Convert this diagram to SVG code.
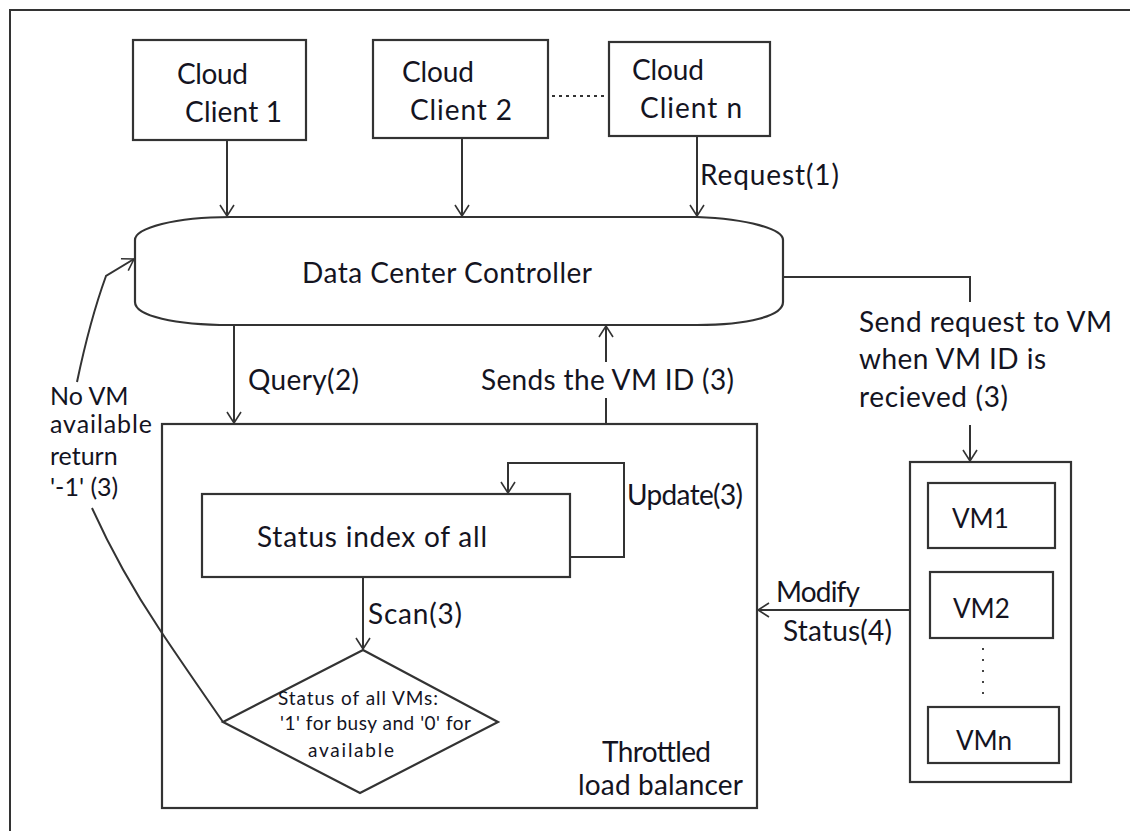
<svg xmlns="http://www.w3.org/2000/svg" width="1130" height="831" viewBox="0 0 1130 831">
<style>
.ln{fill:none;stroke:#333;stroke-width:2}
.bx{fill:#fff;stroke:#333;stroke-width:2.2}
text{font-family:Lato,"Open Sans","Liberation Sans",sans-serif;fill:#14141f}
.t28{font-size:28px}
.t26{font-size:26px}
.t25{font-size:25px}
.t19{font-size:19px}
</style>
<defs>
<marker id="ah" viewBox="-12 -8 14 16" markerWidth="14" markerHeight="16" refX="0" refY="0" orient="auto" markerUnits="userSpaceOnUse">
<path d="M-11,-7 L0,0 L-11,7" fill="none" stroke="#333" stroke-width="1.6"/>
</marker>
</defs>
<rect width="1130" height="831" fill="#fff"/>
<path class="ln" d="M10,831 L10,10 L1130,10" stroke-width="2.5"/>

<g id="client1"><rect class="bx" x="133" y="40" width="173" height="100"/>
<text class="t28" x="177" y="84" textLength="71">Cloud</text><text class="t28" x="185" y="122" textLength="97">Client 1</text></g>
<g id="client2"><rect class="bx" x="373" y="40" width="175" height="98"/>
<text class="t28" x="402" y="82" textLength="72">Cloud</text><text class="t28" x="410" y="120" textLength="102">Client 2</text></g>
<g id="clientn"><rect class="bx" x="609" y="42" width="161" height="94"/>
<text class="t28" x="632" y="80" textLength="72">Cloud</text><text class="t28" x="640" y="118" textLength="102">Client n</text></g>

<g id="controller"><path class="bx" d="M230,217 L697,217 C748,219 783,229 783,240 L783,302 C783,316 748,325 697,325 L230,325 C175,325 135,316 135,302 L135,240 C135,228 175,217 230,217 Z"/>
<text class="t28" x="302" y="283" textLength="290">Data Center Controller</text></g>

<g id="loadbalancer"><rect class="bx" x="162" y="424" width="595" height="384"/>
<text class="t28" x="602" y="762" textLength="109">Throttled</text><text class="t28" x="578" y="795" textLength="165">load balancer</text></g>

<g id="statusindex"><rect class="bx" x="202" y="494" width="368" height="83"/>
<text class="t28" x="257" y="547" textLength="230">Status index of all</text></g>

<g id="decision"><path class="bx" stroke-width="1.6" d="M363,650 L498,722 L360,793 L223,722 Z"/>
<text class="t19" x="278" y="705" textLength="160">Status of all VMs:</text>
<text class="t19" x="280" y="730" textLength="191">'1' for busy and '0' for</text>
<text class="t19" x="308" y="757" textLength="86">available</text></g>

<g id="vms"><rect class="bx" x="910" y="462" width="161" height="320"/>
<g id="vm1"><rect class="bx" x="928" y="483" width="127" height="65"/><text class="t26" x="952" y="528">VM1</text></g>
<g id="vm2"><rect class="bx" x="930" y="572" width="123" height="66"/><text class="t26" x="953" y="618">VM2</text></g>
<g id="vmn"><rect class="bx" x="928" y="707" width="131" height="56"/><text class="t26" x="956" y="750">VMn</text></g>
<path d="M983,648 L983,700" stroke="#444" stroke-width="2" stroke-dasharray="2,9" fill="none"/>
</g>

<g id="connectors">
<path class="ln" d="M552,96 L606,96" stroke-dasharray="3,4"/>
<path class="ln" d="M227,140 L227,216" marker-end="url(#ah)"/>
<path class="ln" d="M462,138 L462,216" marker-end="url(#ah)"/>
<path class="ln" d="M697,136 L697,216" marker-end="url(#ah)"/>
<path class="ln" d="M234,325 L234,423" marker-end="url(#ah)"/>
<path class="ln" d="M606,424 L606,398 M606,362 L606,326" marker-end="url(#ah)"/>
<path class="ln" d="M570,557 L624,557 L624,463 L508,463 L508,493" marker-end="url(#ah)"/>
<path class="ln" d="M363,577 L363,649" marker-end="url(#ah)"/>
<path class="ln" d="M783,277 L970,277 L970,302 M970,425 L970,461" marker-end="url(#ah)"/>
<path class="ln" d="M910,610 L758,610" marker-end="url(#ah)"/>
<path class="ln" stroke-width="1.6" d="M223,722 Q180,660 160,630 Q120,570 92,508"/>
<path class="ln" stroke-width="1.6" d="M77,382 Q90,320 106,276 L134,259" marker-end="url(#ah)"/>
</g>

<g id="labels">
<text class="t28" x="700" y="185" textLength="139">Request(1)</text>
<text class="t28" x="248" y="390" textLength="111">Query(2)</text>
<text class="t28" x="481" y="390" textLength="253">Sends the VM ID (3)</text>
<text class="t28" x="627" y="505" textLength="116">Update(3)</text>
<text class="t28" x="368" y="624" textLength="94">Scan(3)</text>
<text class="t28" x="776" y="602" textLength="84">Modify</text>
<text class="t28" x="783" y="641" textLength="109">Status(4)</text>
<text class="t28" x="859" y="332" textLength="253">Send request to VM</text>
<text class="t28" x="859" y="369" textLength="187">when VM ID is</text>
<text class="t28" x="859" y="407" textLength="149">recieved (3)</text>
<text class="t25" x="50" y="405">No VM</text>
<text class="t25" x="50" y="433" textLength="102">available</text>
<text class="t25" x="50" y="465">return</text>
<text class="t25" x="50" y="496">'-1' (3)</text>
</g>
</svg>
